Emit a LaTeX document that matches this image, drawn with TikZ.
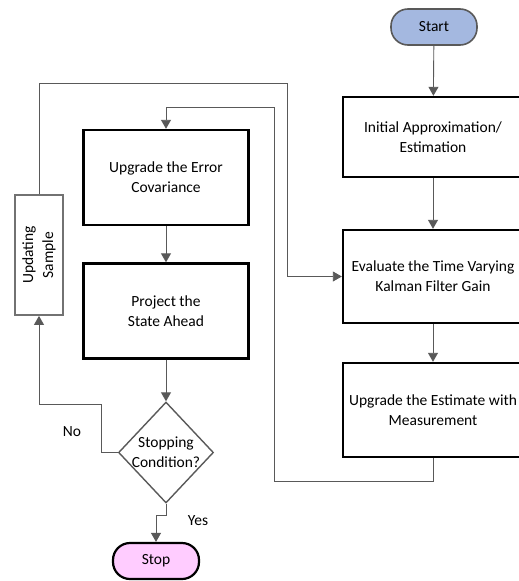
\documentclass[tikz,border=0pt]{standalone}
\usepackage{fontspec}
\setmainfont{Carlito}
\usetikzlibrary{shapes.geometric,arrows.meta}
\definecolor{linegray}{HTML}{595959}
\definecolor{startblue}{HTML}{A4B8E0}
\definecolor{stoppink}{HTML}{FFCCFF}
\tikzset{
  proc/.style = {draw, line width=2.4pt, align=center, minimum width=165pt, minimum height=95pt, inner sep=2pt},
  flow/.style = {draw=linegray, line width=0.9pt, -{Triangle[length=9pt,width=10pt]}},
  term/.style = {draw, rounded corners=17pt, minimum width=86pt, minimum height=36pt}
}
\begin{document}
\begin{tikzpicture}[x=1pt, y=-1pt, font=\fontsize{15.5}{20}\selectfont]
\useasboundingbox (0,0) rectangle (519,581);

% right column
\node[term, draw=linegray, line width=1.6pt, fill=startblue] (start) at (434,27) {Start};
\node[proc, minimum width=180pt, minimum height=80pt] (init) at (433,137) {Initial Approximation/\\Estimation};
\node[proc, minimum width=180pt, minimum height=93pt] (gain) at (433,276.5) {Evaluate the Time Varying\\Kalman Filter Gain};
\node[proc, minimum width=180pt, minimum height=94pt] (meas) at (433,410) {Upgrade the Estimate with\\Measurement};

% left column
\node[proc] (errcov) at (166,177.5) {Upgrade the Error\\Covariance};
\node[proc] (proj) at (166,311) {Project the\\State Ahead};
\node[diamond, draw=linegray, line width=1.4pt, minimum width=95pt, minimum height=101pt, inner sep=0pt,
      label={[align=center]center:Stopping\\Condition?}] (cond) at (166,452.5) {};
\node[term, line width=2.2pt, fill=stoppink] (stop) at (156,561) {Stop};
\node[draw=linegray!85, line width=1.8pt, minimum width=48pt, minimum height=120pt] (upd) at (39,255) {};
\node[rotate=90, align=center] (updtext) at (upd.center) {Updating\\Sample};

\draw[flow] (start) -- (init);
\draw[flow] (init) -- (gain);
\draw[flow] (gain) -- (meas);
\draw[flow] (errcov) -- (proj);
\draw[flow] (proj) -- (cond);
\draw[flow] (meas.south) -- ++(0,23) -| (274,107) -| (errcov.north);
\draw[flow] (upd.north) |- (287,83) |- (gain.west);
\draw[flow] (cond.west) -| (101,404) -| (upd.south);
\draw[flow] (cond.south) -- ++(0,12) -| (stop.north);

\node (no) at (72,432) {No};
\node (yes) at (198,521) {Yes};
\end{tikzpicture}
\end{document}
